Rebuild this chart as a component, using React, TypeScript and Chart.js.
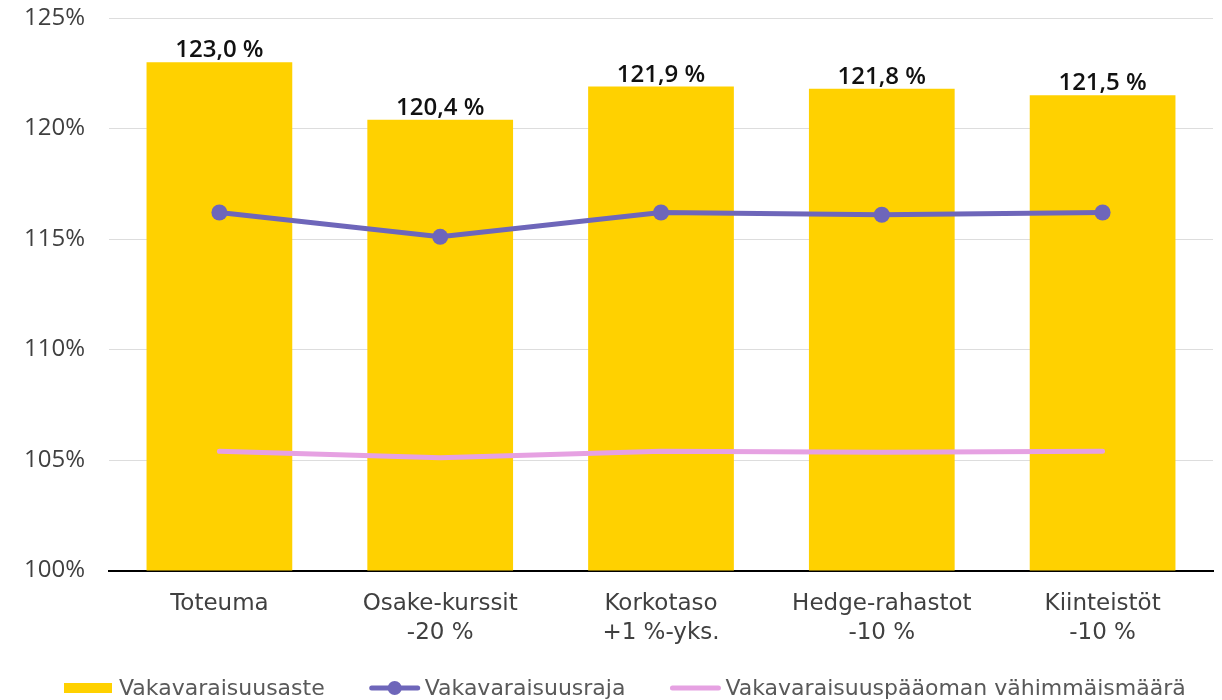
import React, { useEffect, useRef } from 'react';
import { Chart, registerables } from 'chart.js';

Chart.register(...registerables);

const categories: string[][] = [
  ['Toteuma'],
  ['Osake-kurssit', '-20 %'],
  ['Korkotaso', '+1 %-yks.'],
  ['Hedge-rahastot', '-10 %'],
  ['Kiinteistöt', '-10 %'],
];
const seriesNames = ['Vakavaraisuusaste', 'Vakavaraisuusraja', 'Vakavaraisuuspääoman vähimmäismäärä'];
const solvencyRatio = [123.0, 120.4, 121.9, 121.8, 121.5];
const solvencyLimit = [116.2, 115.1, 116.2, 116.1, 116.2];
const minimumCapital = [105.4, 105.1, 105.4, 105.35, 105.4];
const yMin = 100;
const yMax = 125;
const yStep = 5;

const YELLOW = '#FFD100';
const PURPLE = '#6E66BA';
const PINK = '#E6A1E2';
const COLORS = [YELLOW, PURPLE, PINK];

const LEGEND_FONT = '22px "DejaVu Sans"';

function drawLegendIcon(ctx: CanvasRenderingContext2D, kind: number, x: number, y: number, color: string) {
  ctx.fillStyle = color;
  ctx.strokeStyle = color;
  if (kind === 0) {
    ctx.fillRect(x, y - 5, 48, 10);
  } else {
    ctx.lineWidth = 5;
    ctx.lineCap = 'round';
    ctx.beginPath();
    ctx.moveTo(x + 2, y);
    ctx.lineTo(x + 48, y);
    ctx.stroke();
    if (kind === 1) {
      ctx.beginPath();
      ctx.arc(x + 25, y, 7, 0, Math.PI * 2);
      ctx.fill();
    }
  }
}

const legendPlugin = {
  id: 'bottomLegend',
  afterDraw(chart: any) {
    const ctx: CanvasRenderingContext2D = chart.ctx;
    ctx.save();
    ctx.font = LEGEND_FONT;
    ctx.textBaseline = 'middle';
    ctx.textAlign = 'left';
    const y = chart.height - 12;
    let x = 64;
    seriesNames.forEach((name, i) => {
      drawLegendIcon(ctx, i, x, y, COLORS[i]);
      x += 48 + 7;
      ctx.fillStyle = '#595959';
      ctx.fillText(name, x, y + 1);
      x += ctx.measureText(name).width + 45;
    });
    ctx.restore();
  },
};

const barLabelPlugin = {
  id: 'barLabels',
  afterDatasetsDraw(chart: any) {
    const meta = chart.getDatasetMeta(0);
    const ctx = chart.ctx;
    ctx.save();
    ctx.font = '600 24px "Open Sans"';
    ctx.fillStyle = '#111111';
    ctx.textAlign = 'center';
    ctx.textBaseline = 'alphabetic';
    meta.data.forEach((bar: any, i: number) => {
      const v = solvencyRatio[i];
      ctx.fillText(v.toFixed(1).replace('.', ',') + ' %', bar.x, bar.y - 5);
    });
    ctx.restore();
  },
};

export default function App() {
  const ref = useRef<HTMLCanvasElement | null>(null);
  useEffect(() => {
    document.body.style.margin = '0';
    document.body.style.overflow = 'hidden';
    const chart = new Chart(ref.current!, {
      type: 'bar',
      data: {
        labels: categories,
        datasets: [
          {
            type: 'bar',
            label: seriesNames[0],
            data: solvencyRatio,
            backgroundColor: YELLOW,
            barPercentage: 0.66,
            categoryPercentage: 1,
            order: 3,
          },
          {
            type: 'line',
            label: seriesNames[1],
            data: solvencyLimit,
            borderColor: PURPLE,
            backgroundColor: PURPLE,
            borderWidth: 5,
            pointRadius: 8,
            pointHoverRadius: 8,
            pointBorderWidth: 0,
            tension: 0,
            order: 1,
          },
          {
            type: 'line',
            label: seriesNames[2],
            data: minimumCapital,
            borderColor: PINK,
            backgroundColor: PINK,
            borderWidth: 5,
            pointRadius: 0,
            tension: 0,
            borderCapStyle: 'round',
            order: 2,
          },
        ] as any,
      },
      options: {
        animation: false,
        responsive: true,
        maintainAspectRatio: false,
        layout: { padding: { top: 18, right: 9, bottom: 41, left: 0 } },
        plugins: {
          tooltip: { enabled: false },
          legend: { display: false },
        },
        scales: {
          x: {
            grid: { display: false },
            border: { display: true, color: '#000000', width: 2 },
            ticks: {
              color: '#404040',
              padding: 11,
              font: { family: '"DejaVu Sans"', size: 23, lineHeight: 1.27 },
              maxRotation: 0,
            },
          },
          y: {
            min: yMin,
            max: yMax,
            afterFit: (s: any) => {
              s.width = 109;
            },
            grid: { color: '#DDDDDD', lineWidth: 1, drawTicks: true, tickLength: 24, tickColor: 'rgba(0,0,0,0)' },
            border: { display: false },
            ticks: {
              stepSize: yStep,
              padding: 0,
              color: '#404040',
              font: { family: '"Open Sans"', size: 24 },
              callback: (v: any) => v + '%',
            },
          },
        },
      },
      plugins: [barLabelPlugin, legendPlugin],
    });
    return () => chart.destroy();
  }, []);
  return (
    <div style={{ position: 'relative', width: 1222, height: 700 }}>
      <canvas ref={ref} />
    </div>
  );
}
